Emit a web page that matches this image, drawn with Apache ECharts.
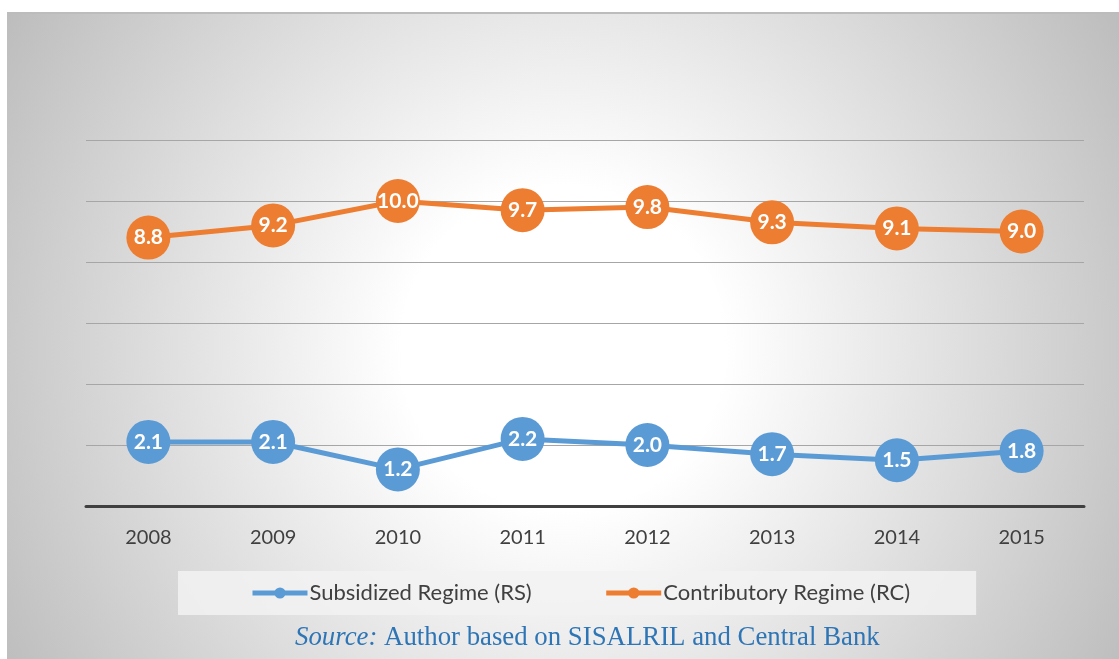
<!DOCTYPE html>
<html>
<head>
<meta charset="utf-8">
<script src="https://cdn.jsdelivr.net/npm/echarts@6/dist/echarts.min.js"></script>
<style>
  html, body { margin: 0; padding: 0; background: #fff; }
  #main { width: 1119px; height: 659px; }
</style>
</head>
<body>
<div id="main"></div>
<script>
// data
var years = ['2008', '2009', '2010', '2011', '2012', '2013', '2014', '2015'];
var subsidized = [2.1, 2.1, 1.2, 2.2, 2.0, 1.7, 1.5, 1.8];
var contributory = [8.8, 9.2, 10.0, 9.7, 9.8, 9.3, 9.1, 9.0];

var chart = echarts.init(document.getElementById('main'));

function lineSeries(name, data, color) {
  return {
    name: name,
    type: 'line',
    data: data,
    symbol: 'circle',
    symbolSize: 44,
    lineStyle: { width: 5, color: color },
    itemStyle: { color: color },
    label: {
      show: true,
      position: 'inside',
      color: '#fff',
      fontFamily: 'Lato',
      fontWeight: 'bold',
      fontSize: 21,
      formatter: function (p) { return p.value.toFixed(1); }
    },
    z: 3
  };
}

var option = {
  backgroundColor: '#fff',
  animation: false,
  graphic: [
    {
      type: 'rect',
      left: 7, top: 13,
      shape: { width: 1112, height: 646 },
      style: {
        fill: {
          type: 'radial', x: 0.5, y: 0.52, r: 1.0,
          colorStops: [
            { offset: 0, color: '#ffffff' },
            { offset: 0.25, color: '#ffffff' },
            { offset: 1, color: '#bdbdbd' }
          ]
        }
      },
      z: -10
    },
    {
      type: 'rect',
      left: 7, top: 12,
      shape: { width: 1112, height: 2 },
      style: { fill: '#bcbcbc' },
      z: -9
    },
    {
      type: 'text',
      left: 295,
      top: 624,
      style: {
        text: '{i|Source:} Author based on SISALRIL and Central Bank',
        fontFamily: 'Liberation Serif',
        fontSize: 26.8,
        fill: '#2E75B6',
        rich: {
          i: { fontStyle: 'italic', fontFamily: 'Liberation Serif', fontSize: 26.8, color: '#2E75B6' }
        }
      }
    }
  ],
  grid: {
    left: 86, right: 35, top: 140, bottom: 153
  },
  legend: {
    data: ['Subsidized Regime (RS)', 'Contributory Regime (RC)'],
    left: 178, top: 571,
    padding: [11, 66, 11, 72],
    backgroundColor: 'rgba(242,242,242,0.85)',
    itemGap: 72,
    itemWidth: 55,
    itemHeight: 14,
    lineStyle: { width: 5 },
    textStyle: { fontFamily: 'Lato', fontSize: 22, color: '#404040', padding: [0, 0, 0, -3] }
  },
  xAxis: {
    type: 'category',
    data: years,
    boundaryGap: true,
    axisLine: { lineStyle: { color: '#404040', width: 3 } },
    axisTick: { show: false },
    axisLabel: { fontFamily: 'Lato', fontSize: 20, color: '#404040', margin: 22 }
  },
  yAxis: {
    type: 'value',
    min: 0, max: 12, interval: 2,
    axisLabel: { show: false },
    axisLine: { show: false },
    axisTick: { show: false },
    splitLine: { lineStyle: { color: '#a6a6a6', width: 1 } }
  },
  series: [
    lineSeries('Subsidized Regime (RS)', subsidized, '#5B9BD5'),
    lineSeries('Contributory Regime (RC)', contributory, '#ED7D31')
  ]
};

chart.setOption(option);
</script>
</body>
</html>
